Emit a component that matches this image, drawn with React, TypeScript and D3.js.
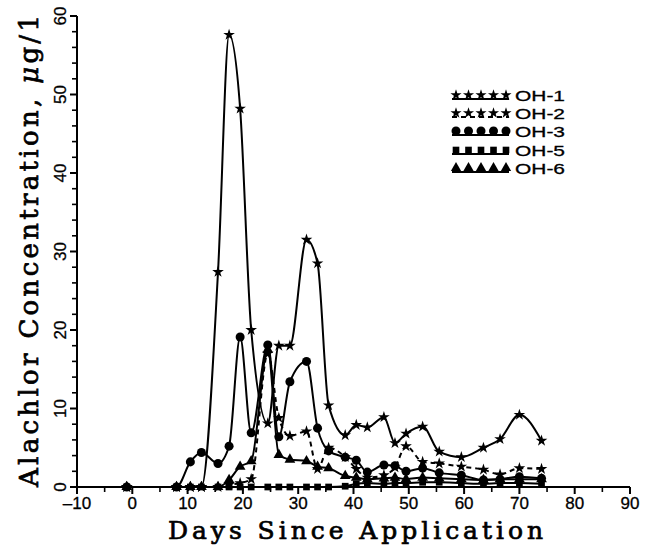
import React from "react";
import * as d3 from "d3";

const days = [-1, 8, 10.5, 12.5, 15.5, 17.5, 19.5, 21.5, 24.5, 26.5, 28.5, 31.5, 33.5, 35.5, 38.5, 40.5, 42.5, 45.5, 47.5, 49.5, 52.5, 55.5, 59.5, 63.5, 66.5, 70, 74];
const oh1 = [0, 0, 0, 0, 27.4, 57.6, 48.2, 20, 8.1, 18, 18, 31.5, 28.5, 10.4, 6.6, 7.9, 7.6, 8.9, 5.6, 6.8, 7.7, 4.5, 3.8, 5.0, 6.1, 9.2, 5.9];
const oh2 = [0, 0, 0, 0, 0, 0.3, 0.5, 1.0, 17, 8.8, 6.5, 7.1, 2.3, 5.0, 3.8, 2.3, 1.2, 1.5, 2.5, 5.2, 3.2, 3.0, 2.6, 2.2, 1.6, 2.4, 2.3];
const oh3 = [0, 0, 3.2, 4.4, 3.0, 5.2, 19.1, 6.9, 18.1, 6.4, 13.4, 16, 7.5, 4.6, 3.8, 3.4, 1.9, 2.8, 2.7, 2.0, 2.4, 1.8, 1.5, 0.9, 1.0, 1.3, 1.1];
const oh5 = [0, 0, 0, 0, 0, 0, 0, 0, 0, 0, 0, 0, 0, 0, 0.1, 0.4, 0.5, 0.4, 0.5, 0.5, 0.6, 0.6, 0.5, 0.4, 0.5, 0.5, 0.4];
const oh6 = [0, 0, 0, 0, 0, 0.9, 2.6, 3.3, 17.5, 4.1, 3.5, 3.3, 2.6, 2.4, 1.4, 1.2, 1.0, 1.1, 1.2, 1.0, 1.2, 1.1, 1.0, 0.9, 1.0, 1.0, 1.0];

const seriesNames = ["OH-1", "OH-2", "OH-3", "OH-5", "OH-6"];
const seriesValues = [oh1, oh2, oh3, oh5, oh6];
const xTicks = [-10, 0, 10, 20, 30, 40, 50, 60, 70, 80, 90];
const yTicks = [0, 10, 20, 30, 40, 50, 60];

const symbols = [d3.symbolStar, d3.symbolStar, d3.symbolCircle, d3.symbolSquare, d3.symbolTriangle];
const symSizes = [42, 42, 64, 45, 50];
const legSizes = [38, 38, 64, 44, 46];
const dashes = [undefined, "5,4", undefined, undefined, undefined];

export default function App() {
  const W = 652, H = 550;
  const x = d3.scaleLinear().domain([-10, 90]).range([77, 630]);
  const y = d3.scaleLinear().domain([0, 60]).range([487, 16]);
  const line = d3
    .line<number>()
    .x((_, i) => x(days[i]))
    .y((v) => y(v))
    .curve(d3.curveMonotoneX);

  const xMinor = d3.range(-10, 91, 5).filter((v) => v % 10 !== 0);
  const yMinor = d3.range(0, 61, 2).filter((v) => v % 10 !== 0);
  const sans = "'Liberation Sans', Arial, sans-serif";
  const serif = "'DejaVu Serif', serif";

  return (
    <svg width={W} height={H} style={{ position: "absolute", left: 0, top: 0, background: "#fff" }}>
      {/* axes */}
      <line x1={77} y1={16} x2={77} y2={487} stroke="#000" strokeWidth={2} />
      <line x1={77} y1={487} x2={630} y2={487} stroke="#000" strokeWidth={2} />
      {yTicks.map((t) => (
        <g key={"yt" + t}>
          <line x1={70} x2={77} y1={y(t)} y2={y(t)} stroke="#000" strokeWidth={2} />
          <text
            transform={`translate(66,${y(t)}) rotate(-90)`}
            textAnchor="middle"
            fontFamily={sans}
            fontSize={17}
            stroke="#000"
            strokeWidth={0.3}
          >
            {t}
          </text>
        </g>
      ))}
      {yMinor.map((t) => (
        <line key={"ym" + t} x1={72} x2={77} y1={y(t)} y2={y(t)} stroke="#000" strokeWidth={1.6} />
      ))}
      {xTicks.map((t) => (
        <g key={"xt" + t}>
          <line x1={x(t)} x2={x(t)} y1={487} y2={494} stroke="#000" strokeWidth={2} />
          <text x={x(t)} y={509} textAnchor="middle" fontFamily={sans} fontSize={17} stroke="#000" strokeWidth={0.3}>
            {t < 0 ? "\u2013" + Math.abs(t) : t}
          </text>
        </g>
      ))}
      {xMinor.map((t) => (
        <line key={"xm" + t} x1={x(t)} x2={x(t)} y1={487} y2={492} stroke="#000" strokeWidth={1.6} />
      ))}
      {/* axis titles */}
      <text
        x={168}
        y={539}
        fontFamily={serif}
        fontSize={25}
        textLength={375}
        lengthAdjust="spacing"
        stroke="#000"
        strokeWidth={0.7}
      >
        Days Since Application
      </text>
      <text
        transform="translate(38,487) rotate(-90)"
        fontFamily={serif}
        fontSize={26}
        textLength={472}
        lengthAdjust="spacing"
        stroke="#000"
        strokeWidth={0.7}
      >
        Alachlor Concentration, <tspan fontStyle="italic">μ</tspan>g/1
      </text>
      {/* series */}
      {seriesValues.map((vals, si) => (
        <g key={"s" + si}>
          <path d={line(vals) || ""} fill="none" stroke="#000" strokeWidth={2} strokeDasharray={dashes[si]} />
          {vals.map((v, i) => (
            <path
              key={i}
              d={d3.symbol().type(symbols[si]).size(symSizes[si])() || ""}
              transform={`translate(${x(days[i])},${y(v)})`}
              fill="#000"
            />
          ))}
        </g>
      ))}
      {/* legend */}
      {seriesNames.map((name, si) => {
        const ry = [95, 113, 131, 150, 168][si];
        return (
          <g key={"lg" + si}>
            <line x1={452} x2={509} y1={ry + 4} y2={ry + 4} stroke="#000" strokeWidth={1.8} strokeDasharray={dashes[si]} />
            {d3.range(5).map((k) => (
              <path
                key={k}
                d={d3.symbol().type(symbols[si]).size(legSizes[si])() || ""}
                transform={`translate(${456 + k * 12.5},${ry})`}
                fill="#000"
              />
            ))}
            <text
              x={515}
              y={ry + 6}
              fontFamily={sans}
              fontSize={15}
              textLength={50}
              lengthAdjust="spacingAndGlyphs"
              stroke="#000"
              strokeWidth={0.3}
            >
              {name}
            </text>
          </g>
        );
      })}
    </svg>
  );
}
